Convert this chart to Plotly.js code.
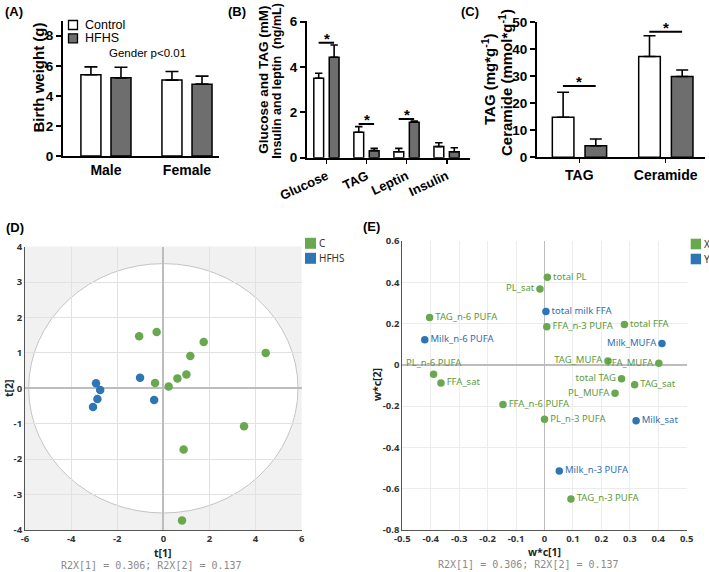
<!DOCTYPE html>
<html><head><meta charset="utf-8">
<script src="https://cdn.plot.ly/plotly-3.0.1.min.js"></script>
<style>html,body{margin:0;padding:0;background:#fff}</style>
</head><body><div id="chart" style="width:709px;height:572px"></div>
<script>
// ---------- Panel A: birth weight ----------
const A_categories = ['Male', 'Female'];
const A_control = [5.4, 5.05];
const A_controlErr = [0.53, 0.57];
const A_hfhs = [5.2, 4.78];
const A_hfhsErr = [0.7, 0.53];
const A_note = 'Gender p<0.01';
const seriesNames = ['Control', 'HFHS'];

// ---------- Panel B: plasma ----------
const B_categories = ['Glucose', 'TAG', 'Leptin', 'Insulin'];
const B_control = [3.5, 1.12, 0.26, 0.49];
const B_controlErr = [0.22, 0.25, 0.15, 0.17];
const B_hfhs = [4.43, 0.31, 1.56, 0.26];
const B_hfhsErr = [0.54, 0.10, 0.06, 0.18];
const B_sigLevel = [5.07, 1.49, 1.71, null];

// ---------- Panel C: liver ----------
const C_categories = ['TAG', 'Ceramide'];
const C_control = [14.8, 37.3];
const C_controlErr = [9.3, 7.7];
const C_hfhs = [4.3, 29.9];
const C_hfhsErr = [2.5, 2.4];
const C_sigLevel = [26.4, 46.5];

// ---------- Panel D: scores ----------
const D_groups = ['C', 'HFHS'];
const D_C_t1 = [-1.05, -0.29, 1.75, 1.17, 4.44, 1.0, 0.61, -0.36, 0.23, 3.5, 0.88, 0.81];
const D_C_t2 = [1.47, 1.59, 1.31, 0.91, 1.0, 0.39, 0.28, 0.15, 0.05, -1.07, -1.73, -3.73];
const D_H_t1 = [-1.01, -2.92, -2.74, -2.86, -3.05, -0.40];
const D_H_t2 = [0.30, 0.14, -0.05, -0.30, -0.53, -0.33];
const D_ellipse = [5.84, 3.52];
const D_xticks = [-6, -4, -2, 0, 2, 4, 6];
const D_yticks = [-4, -3, -2, -1, 0, 1, 2, 3, 4];
const R2X_text = 'R2X[1] = 0.306; R2X[2] = 0.137';

// ---------- Panel E: loadings ----------
const E_groups = ['X', 'Y'];
const E_X_names = ['total PL', 'PL_sat', 'TAG_n-6 PUFA', 'FFA_n-3 PUFA', 'total FFA', 'TAG_MUFA', 'FFA_MUFA',
  'PL_n-6 PUFA', 'FFA_sat', 'total TAG', 'TAG_sat', 'PL_MUFA', 'FFA_n-6 PUFA', 'PL_n-3 PUFA', 'TAG_n-3 PUFA'];
const E_X_wc1 = [0.01, -0.016, -0.404, 0.008, 0.281, 0.223, 0.402, -0.39, -0.364, 0.271, 0.317, 0.248, -0.146, 0.0, 0.093];
const E_X_wc2 = [0.425, 0.368, 0.23, 0.185, 0.196, 0.019, 0.008, -0.046, -0.088, -0.067, -0.096, -0.138, -0.192, -0.263, -0.65];
const E_Y_names = ['total milk FFA', 'Milk_n-6 PUFA', 'Milk_MUFA', 'Milk_sat', 'Milk_n-3 PUFA'];
const E_Y_wc1 = [0.005, -0.421, 0.413, 0.322, 0.052];
const E_Y_wc2 = [0.258, 0.122, 0.104, -0.271, -0.514];
const E_xticks = [-0.5, -0.4, -0.3, -0.2, -0.1, 0, 0.1, 0.2, 0.3, 0.4, 0.5];
const E_yticks = [-0.8, -0.6, -0.4, -0.2, 0, 0.2, 0.4, 0.6];

// label placement (style)
const E_X_textpos = ['middle right', 'middle left', 'middle right', 'middle right', 'middle right', 'middle left', 'middle left',
  'top center', 'middle right', 'middle left', 'middle right', 'middle left', 'middle right', 'middle right', 'middle right'];
const E_Y_textpos = ['middle right', 'middle right', 'middle left', 'middle right', 'middle right'];

// ---------- helpers / styles ----------
const W = 709, H = 572;
const fx = p => p / W;
const fy = p => 1 - p / H;
const ARIAL = 'Liberation Sans, Arial, sans-serif';
const SEGOE = 'Noto Sans, Open Sans, sans-serif';
const MONO = 'DejaVu Sans Mono, monospace';
const GREEN = '#6aa84f', BLUE = '#2e75b6';
const GREEN_T = '#5b9a3d', BLUE_T = '#2f6eb0';
const zeros = a => a.map(() => 0);

function barPair(cats, ctl, ctlErr, hf, hfErr, ax, offs, w, cap) {
  const mk = (vals, err, fill, off) => ({
    type: 'bar', x: cats, y: vals, xaxis: 'x' + ax, yaxis: 'y' + ax,
    offset: off, width: w, showlegend: false, hoverinfo: 'skip',
    marker: {color: fill, line: {color: '#000', width: 1.5}},
    error_y: {type: 'data', symmetric: false, array: err, arrayminus: zeros(err),
      color: '#000', thickness: 1.6, width: cap}
  });
  return [mk(ctl, ctlErr, '#ffffff', offs[0]), mk(hf, hfErr, '#6e6e6e', offs[1])];
}

const traces = [
  ...barPair(A_categories, A_control, A_controlErr, A_hfhs, A_hfhsErr, '', [-0.309, 0.062], 0.247, 6.5),
  ...barPair(B_categories, B_control, B_controlErr, B_hfhs, B_hfhsErr, '2', [-0.32, 0.065], 0.245, 3.7),
  ...barPair(C_categories, C_control, C_controlErr, C_hfhs, C_hfhsErr, '3', [-0.3125, 0.066], 0.25, 6),
  {type: 'scatter', mode: 'markers', x: D_C_t1, y: D_C_t2, xaxis: 'x4', yaxis: 'y4', name: D_groups[0],
    marker: {color: GREEN, size: 8.5}, showlegend: false, hoverinfo: 'skip'},
  {type: 'scatter', mode: 'markers', x: D_H_t1, y: D_H_t2, xaxis: 'x4', yaxis: 'y4', name: D_groups[1],
    marker: {color: BLUE, size: 8.5}, showlegend: false, hoverinfo: 'skip'},
  {type: 'scatter', mode: 'markers+text', x: E_X_wc1, y: E_X_wc2, text: E_X_names, textposition: E_X_textpos,
    xaxis: 'x5', yaxis: 'y5', name: E_groups[0], cliponaxis: false,
    textfont: {family: SEGOE, size: 9.5, color: GREEN_T},
    marker: {color: GREEN, size: 7.5}, showlegend: false, hoverinfo: 'skip'},
  {type: 'scatter', mode: 'markers+text', x: E_Y_wc1, y: E_Y_wc2, text: E_Y_names, textposition: E_Y_textpos,
    xaxis: 'x5', yaxis: 'y5', name: E_groups[1], cliponaxis: false,
    textfont: {family: SEGOE, size: 9.5, color: BLUE_T},
    marker: {color: BLUE, size: 7.5}, showlegend: false, hoverinfo: 'skip'}
];

const barAxisX = (dom, rng, anchor, extra) => Object.assign({
  domain: dom, range: rng, anchor: anchor, type: 'category', showline: true, linecolor: '#000', linewidth: 2,
  showgrid: false, zeroline: false, ticks: 'outside', ticklen: 4, tickwidth: 1.5, tickcolor: '#000',
  tickfont: {family: ARIAL, size: 14, color: '#000', weight: 'bold'}, fixedrange: true
}, extra || {});
const barAxisY = (dom, rng, anchor, tv, extra) => Object.assign({
  domain: dom, range: rng, anchor: anchor, tickvals: tv, showline: true, linecolor: '#000', linewidth: 2,
  showgrid: false, zeroline: false, ticks: 'outside', ticklen: 5, tickwidth: 2, tickcolor: '#000',
  tickfont: {family: ARIAL, size: 13.5, color: '#000', weight: 'bold'}, fixedrange: true
}, extra || {});

const scoreAxis = (dom, rng, anchor, tv, extra) => Object.assign({
  domain: dom, range: rng, anchor: anchor, tickmode: 'array', tickvals: tv, ticktext: tv.map(String),
  showline: true, linecolor: '#555', linewidth: 1,
  showgrid: true, gridcolor: '#e2e2e2', gridwidth: 1, zeroline: true, zerolinecolor: '#bdbdbd', zerolinewidth: 2,
  ticks: '', tickfont: {family: SEGOE, size: 9.5, color: '#333', weight: 'bold'}, fixedrange: true
}, extra || {});

const shapes = [];
const annotations = [];
const star = (xref, yref, x, y) => ({xref: xref, yref: yref, x: x, y: y, text: '*', showarrow: false,
  yanchor: 'bottom', yshift: -6, font: {family: ARIAL, size: 15, color: '#000', weight: 'bold'}});
B_sigLevel.forEach((lv, i) => {
  if (lv === null) return;
  shapes.push({type: 'line', xref: 'x2', yref: 'y2', x0: i - 0.2, x1: i + 0.185, y0: lv, y1: lv, line: {color: '#000', width: 2}});
  annotations.push(star('x2', 'y2', i, lv));
});
C_sigLevel.forEach((lv, i) => {
  shapes.push({type: 'line', xref: 'x3', yref: 'y3', x0: i - 0.19, x1: i + 0.19, y0: lv, y1: lv, line: {color: '#000', width: 2}});
  annotations.push(star('x3', 'y3', i, lv));
});

// Panel D background and ellipse
shapes.push({type: 'rect', xref: 'x4 domain', yref: 'y4 domain', x0: 0, x1: 1, y0: 0, y1: 1,
  fillcolor: '#f1f1f1', line: {width: 0}, layer: 'below'});
shapes.push({type: 'circle', xref: 'x4', yref: 'y4', x0: -D_ellipse[0], x1: D_ellipse[0], y0: -D_ellipse[1], y1: D_ellipse[1],
  fillcolor: '#ffffff', line: {color: '#c4c4c4', width: 1}, layer: 'below'});

// Legends drawn as swatches + labels
function legendBlock(names, fills, lineCol, x0, x1, ys, half, textX, font) {
  names.forEach((n, i) => {
    shapes.push({type: 'rect', xref: 'paper', yref: 'paper', x0: fx(x0), x1: fx(x1), y0: fy(ys[i] + half), y1: fy(ys[i] - half),
      fillcolor: fills[i], line: {color: lineCol, width: lineCol ? 1.3 : 0}});
    annotations.push({xref: 'paper', yref: 'paper', x: fx(textX), y: fy(ys[i]), xanchor: 'left', yanchor: 'middle',
      text: n, showarrow: false, font: font});
  });
}
legendBlock(seriesNames, ['#ffffff', '#6e6e6e'], '#000', 68.5, 77.5, [25, 38.3], 4.5, 83,
  {family: ARIAL, size: 12.5, color: '#000'});
legendBlock(D_groups, [GREEN, BLUE], null, 305, 316, [243.3, 258.3], 5.5, 316.5,
  {family: SEGOE, size: 10, color: '#333'});
legendBlock(E_groups, [GREEN, BLUE], null, 690.7, 701, [244, 259], 5.3, 701.5,
  {family: SEGOE, size: 10, color: '#333'});

const txt = (x, y, text, font, extra) => Object.assign({xref: 'paper', yref: 'paper', x: fx(x), y: fy(y), text: text,
  showarrow: false, xanchor: 'center', yanchor: 'middle', font: font}, extra || {});
const boldA = s => ({family: ARIAL, size: s, color: '#000', weight: 'bold'});
annotations.push(
  txt(147, 53, A_note, {family: ARIAL, size: 11.5, color: '#000'}),
  txt(14, 12, '(A)', boldA(13)), txt(237, 12, '(B)', boldA(13)), txt(470, 12, '(C)', boldA(13)),
  txt(15, 227, '(D)', boldA(13)), txt(371, 226, '(E)', boldA(13)),
  txt(37.5, 78, 'Birth weight (g)', boldA(15), {textangle: -90}),
  txt(262.7, 80, 'Glucose and TAG (mM)', boldA(13.5), {textangle: -90}),
  txt(276.7, 81, 'Insulin and leptin  (ng/mL)', boldA(12.5), {textangle: -90}),
  txt(488, 79, 'TAG (mg*g<sup>-1</sup>)', boldA(15), {textangle: -90}),
  txt(505, 83, 'Ceramide (mmol*g<sup>-1</sup>)', boldA(15), {textangle: -90}),
  txt(163.3, 552.5, 't[1]', {family: SEGOE, size: 10.5, color: '#222', weight: 'bold'}),
  txt(9, 388, 't[2]', {family: SEGOE, size: 10.5, color: '#222', weight: 'bold'}, {textangle: -90}),
  txt(544.5, 552, 'w*c[1]', {family: SEGOE, size: 10.5, color: '#222', weight: 'bold'}),
  txt(377, 384, 'w*c[2]', {family: SEGOE, size: 10.5, color: '#222', weight: 'bold'}, {textangle: -90}),
  txt(151.5, 565, R2X_text, {family: MONO, size: 10, color: '#8a8a8a'}),
  txt(528.8, 564.5, R2X_text, {family: MONO, size: 10, color: '#8a8a8a'})
);

const layout = {
  width: W, height: H, margin: {l: 0, r: 0, t: 0, b: 0},
  paper_bgcolor: '#ffffff', plot_bgcolor: '#ffffff', showlegend: false,
  xaxis: barAxisX([fx(63), fx(219)], [-0.53, 1.395], 'y', {ticks: ''}),
  yaxis: barAxisY([fy(156), fy(20.7)], [0, 9], 'x', [0, 2, 4, 6, 8]),
  xaxis2: barAxisX([fx(307), fx(470)], [-0.49, 3.58], 'y2', {tickangle: -25, tickfont: {family: ARIAL, size: 13, color: '#000', weight: 'bold'}}),
  yaxis2: barAxisY([fy(157.7), fy(20.7)], [0, 6.04], 'x2', [0, 2, 4, 6]),
  xaxis3: barAxisX([fx(537), fx(705)], [-0.49, 1.455], 'y3'),
  yaxis3: barAxisY([fy(157.3), fy(21.7)], [0, 50.2], 'x3', [0, 10, 20, 30, 40, 50]),
  xaxis4: scoreAxis([fx(25), fx(301.7)], [-6, 6], 'y4', D_xticks),
  yaxis4: scoreAxis([fy(530), fy(246.6)], [-4, 4], 'x4', D_yticks),
  xaxis5: scoreAxis([fx(402.3), fx(686.7)], [-0.5, 0.5], 'y5', E_xticks, {gridcolor: '#ececec', zerolinewidth: 1.5}),
  yaxis5: scoreAxis([fy(530), fy(241)], [-0.8, 0.6], 'x5', E_yticks, {gridcolor: '#ececec', zerolinewidth: 1.5}),
  shapes: shapes, annotations: annotations
};

Plotly.newPlot('chart', traces, layout, {staticPlot: true, displayModeBar: false});
</script></body></html>
